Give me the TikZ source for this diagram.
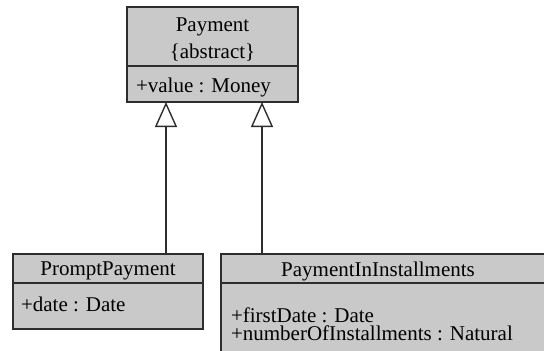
\documentclass[tikz,border=0pt]{standalone}
\usepackage{fontspec}
\setmainfont{Liberation Serif}
\usetikzlibrary{arrows.meta}
\definecolor{boxgray}{RGB}{201,201,201}
\definecolor{linegray}{RGB}{45,45,45}
\begin{document}
\begin{tikzpicture}[x=1pt,y=-1pt,
  cls/.style={draw=linegray, fill=boxgray, line width=1.3pt, inner sep=0pt, outer sep=0pt},
  txt/.style={inner sep=0pt, outer sep=0pt, text=black, font=\fontsize{21}{25}\selectfont},
  divider/.style={draw=linegray, line width=1.3pt},
  gen/.style={draw=linegray, line width=1.4pt, -{Triangle[open, length=25pt, width=22pt, line width=1.4pt]}}]
\useasboundingbox (0,0) rectangle (544,351);
\clip (0,0) rectangle (544,351);
% Payment
\node[cls, minimum width=171pt, minimum height=95pt] (pay) at (212.5,54.5) {};
\node[txt, anchor=base] (payname) at (212.5,31) {Payment};
\node[txt, anchor=base] (payabs) at (212.5,58) {\{abstract\}};
\node[txt, anchor=base west] (payval) at (136,92) {+value : Money};
\draw[divider] (pay.west |- 0,66) -- (pay.east |- 0,66);
% PromptPayment
\node[cls, minimum width=190pt, minimum height=75pt] (pp) at (108,291.5) {};
\node[txt, anchor=base] (ppname) at (108,275) {PromptPayment};
\node[txt, anchor=base west] (ppdate) at (21,311) {+date : Date};
\draw[divider] (pp.west |- 0,283) -- (pp.east |- 0,283);
% PaymentInInstallments
\node[cls, minimum width=340pt, minimum height=120pt] (pi) at (391,314) {};
\node[txt, anchor=base] (piname) at (378,276) {PaymentInInstallments};
\node[txt, anchor=base west] (pifirst) at (231,322.5) {+firstDate : Date};
\node[txt, anchor=base west] (pinum) at (231,340) {+numberOfInstallments : Natural};
\draw[divider] (pi.west |- 0,283) -- (pi.east |- 0,283);
% generalizations
\coordinate (tipL) at (166,102);
\coordinate (tipR) at (262,102);
\draw[gen] (tipL |- pp.north) -- (tipL);
\draw[gen] (tipR |- pi.north) -- (tipR);
\end{tikzpicture}
\end{document}
